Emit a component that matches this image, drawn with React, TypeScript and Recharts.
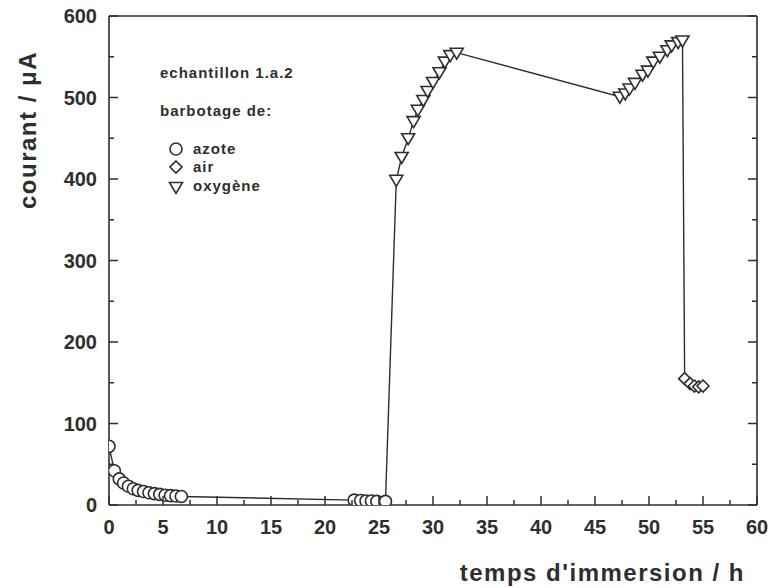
import React from "react";
import { ComposedChart, Line, XAxis, YAxis } from "recharts";

// azote (N2 bubbling)
const azoteX = [0, 0.5, 0.95, 1.35, 1.8, 2.25, 2.7, 3.2, 3.7, 4.2, 4.7, 5.2, 5.7, 6.2, 6.7, 22.7, 23.3, 23.8, 24.3, 24.8, 25.6];
const azoteY = [72, 42, 32, 27, 23, 20, 18, 16.5, 15, 14, 13, 12, 11.5, 11, 10.5, 6, 5.5, 5, 5, 4.5, 4.5];

// oxygène
const oxygeneX = [26.6, 27.1, 27.7, 28.2, 28.6, 29.1, 29.5, 30.0, 30.6, 31.1, 31.6, 32.2, 47.3, 47.8, 48.2, 48.7, 49.4, 49.9, 50.4, 51.0, 51.7, 52.1, 52.7, 53.1];
const oxygeneY = [399, 427, 450, 471, 485, 497, 508, 519, 531, 544, 552, 555, 501, 505, 511, 518, 528, 533, 544, 550, 558, 564, 568, 570];

// air
const airX = [53.3, 53.8, 54.2, 54.6, 55.0];
const airY = [155, 149, 146, 145, 146];

const xTicks = [0, 2.5, 5, 7.5, 10, 12.5, 15, 17.5, 20, 22.5, 25, 27.5, 30, 32.5, 35, 37.5, 40, 42.5, 45, 47.5, 50, 52.5, 55, 57.5, 60];
const yTicks = [0, 50, 100, 150, 200, 250, 300, 350, 400, 450, 500, 550, 600];

const points = [
  ...azoteX.map((x, i) => ({ x, y: azoteY[i], kind: "azote" })),
  ...oxygeneX.map((x, i) => ({ x, y: oxygeneY[i], kind: "oxygene" })),
  ...airX.map((x, i) => ({ x, y: airY[i], kind: "air" })),
];

const ink = "#2e2e2e";
const font = "'Liberation Sans', Arial, sans-serif";

function Marker({ kind, cx, cy }: { kind: string; cx: number; cy: number }) {
  if (kind === "azote") return <circle cx={cx} cy={cy} r={6} fill="#fff" stroke={ink} strokeWidth={1.6} />;
  if (kind === "air") {
    const s = 6;
    return <polygon points={`${cx},${cy - s} ${cx + s},${cy} ${cx},${cy + s} ${cx - s},${cy}`} fill="#fff" stroke={ink} strokeWidth={1.6} />;
  }
  return <polygon points={`${cx - 6.5},${cy - 4.5} ${cx + 6.5},${cy - 4.5} ${cx},${cy + 6.5}`} fill="#fff" stroke={ink} strokeWidth={1.6} />;
}

const renderDot = (p: any) => (
  <Marker key={`m-${p.index}`} kind={p.payload.kind} cx={p.cx} cy={p.cy} />
);

const BottomTick = (p: any) => {
  const v = p.payload.value;
  const major = v % 5 === 0;
  return (
    <g>
      <line x1={p.x} x2={p.x} y1={p.y} y2={p.y - (major ? 9 : 5)} stroke={ink} strokeWidth={1.5} />
      {major && (
        <text x={p.x} y={p.y + 29} textAnchor="middle" fontFamily={font} fontWeight="bold" fontSize={20} fill={ink}>
          {v}
        </text>
      )}
    </g>
  );
};

const TopTick = (p: any) => {
  const major = p.payload.value % 5 === 0;
  return <line x1={p.x} x2={p.x} y1={p.y} y2={p.y + (major ? 9 : 5)} stroke={ink} strokeWidth={1.5} />;
};

const LeftTick = (p: any) => {
  const v = p.payload.value;
  const major = v % 100 === 0;
  return (
    <g>
      <line x1={p.x} x2={p.x + (major ? 9 : 5)} y1={p.y} y2={p.y} stroke={ink} strokeWidth={1.5} />
      {major && (
        <text x={p.x - 12} y={p.y + 7} textAnchor="end" fontFamily={font} fontWeight="bold" fontSize={20} fill={ink}>
          {v}
        </text>
      )}
    </g>
  );
};

const RightTick = (p: any) => {
  const major = p.payload.value % 100 === 0;
  return <line x1={p.x} x2={p.x - (major ? 9 : 5)} y1={p.y} y2={p.y} stroke={ink} strokeWidth={1.5} />;
};

export default function App() {
  return (
    <div style={{ position: "absolute", left: 0, top: 0, width: 775, height: 588, background: "#fff" }}>
      <ComposedChart width={775} height={588} margin={{ top: 0, right: 0, bottom: 0, left: 0 }}>
        <XAxis
          xAxisId={0}
          dataKey="x"
          type="number"
          domain={[0, 60]}
          ticks={xTicks}
          interval={0}
          height={83}
          tickSize={0}
          tickMargin={0}
          tickLine={false}
          axisLine={{ stroke: ink, strokeWidth: 1.6 }}
          tick={BottomTick}
          allowDataOverflow
        />
        <XAxis
          xAxisId="top"
          orientation="top"
          type="number"
          domain={[0, 60]}
          ticks={xTicks}
          interval={0}
          height={16}
          tickSize={0}
          tickMargin={0}
          tickLine={false}
          axisLine={{ stroke: ink, strokeWidth: 1.6 }}
          tick={TopTick}
          allowDataOverflow
        />
        <YAxis
          yAxisId={0}
          type="number"
          domain={[0, 600]}
          ticks={yTicks}
          interval={0}
          width={109}
          tickSize={0}
          tickMargin={0}
          tickLine={false}
          axisLine={{ stroke: ink, strokeWidth: 1.6 }}
          tick={LeftTick}
          allowDataOverflow
        />
        <YAxis
          yAxisId="right"
          orientation="right"
          type="number"
          domain={[0, 600]}
          ticks={yTicks}
          interval={0}
          width={18}
          tickSize={0}
          tickMargin={0}
          tickLine={false}
          axisLine={{ stroke: ink, strokeWidth: 1.6 }}
          tick={RightTick}
          allowDataOverflow
        />
        <Line
          xAxisId={0}
          yAxisId={0}
          data={points}
          dataKey="y"
          type="linear"
          stroke={ink}
          strokeWidth={1.4}
          dot={renderDot}
          activeDot={false}
          isAnimationActive={false}
        />
      </ComposedChart>
      <svg width={775} height={588} style={{ position: "absolute", left: 0, top: 0, pointerEvents: "none" }}>
        <g fontFamily={font} fontWeight="bold" fill={ink}>
          <text x={160} y={78} fontSize={15} letterSpacing={1}>echantillon 1.a.2</text>
          <text x={160} y={116} fontSize={15} letterSpacing={1}>barbotage de:</text>
          <Marker kind="azote" cx={176} cy={149} />
          <Marker kind="air" cx={176} cy={167} />
          <Marker kind="oxygene" cx={176} cy={187} />
          <text x={193} y={154} fontSize={15} letterSpacing={1}>azote</text>
          <text x={193} y={172} fontSize={15} letterSpacing={1}>air</text>
          <text x={193} y={191} fontSize={15} letterSpacing={1}>oxygène</text>
          <text x={745} y={581} fontSize={24} letterSpacing={1.5} textAnchor="end">temps d'immersion / h</text>
          <text transform="translate(36,130) rotate(-90)" fontSize={24} letterSpacing={1.5} textAnchor="middle">courant / μA</text>
        </g>
      </svg>
    </div>
  );
}
